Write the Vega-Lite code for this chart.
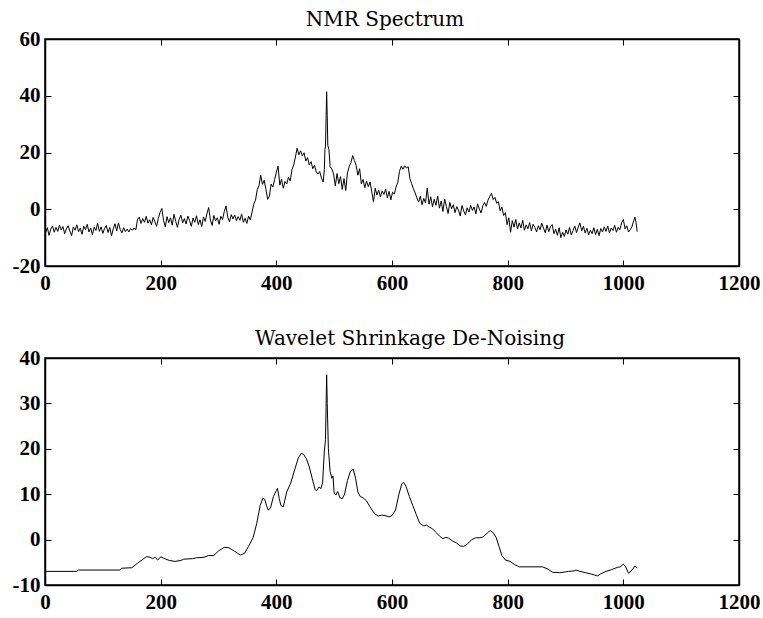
{
"$schema": "https://vega.github.io/schema/vega-lite/v6.json",
"padding": {"left": 11, "top": 9, "right": 2, "bottom": 2},
"background": "white",
"config": {
  "view": {"stroke": "black", "strokeWidth": 1.5},
  "axis": {"grid": false, "domainColor": "black", "domainWidth": 1.5, "tickColor": "black", "tickWidth": 1, "tickSize": -6, "labelFont": "Liberation Serif", "labelFontSize": 21, "labelFontWeight": "bold", "labelColor": "black", "labelFlush": false, "labelOverlap": false, "labelExpr": "'' + datum.value"},
  "axisX": {"labelPadding": 12},
  "axisY": {"labelPadding": 11},
  "title": {"font": "DejaVu Serif", "fontSize": 20, "fontWeight": "normal", "color": "black", "anchor": "middle", "offset": -2},
  "concat": {"spacing": 34}
},
"datasets": {
"raw": [
{"x":1,"y":-8.3},{"x":4,"y":-6.5},{"x":7,"y":-9.2},{"x":10,"y":-7.0},{"x":13,"y":-5.9},{"x":16,"y":-8.1},{"x":19,"y":-6.4},{"x":22,"y":-7.8},{"x":25,"y":-5.6},{"x":28,"y":-7.3},
{"x":31,"y":-6.1},{"x":34,"y":-8.6},{"x":37,"y":-6.9},{"x":40,"y":-5.8},{"x":43,"y":-7.7},{"x":46,"y":-9.3},{"x":49,"y":-6.2},{"x":52,"y":-7.4},{"x":55,"y":-5.5},{"x":58,"y":-7.9},
{"x":61,"y":-6.7},{"x":64,"y":-8.8},{"x":67,"y":-6.0},{"x":70,"y":-7.2},{"x":73,"y":-5.3},{"x":76,"y":-8.0},{"x":79,"y":-6.6},{"x":82,"y":-9.0},{"x":85,"y":-6.3},{"x":88,"y":-7.5},
{"x":91,"y":-4.9},{"x":94,"y":-7.8},{"x":97,"y":-6.2},{"x":100,"y":-8.5},{"x":103,"y":-6.8},{"x":106,"y":-5.7},{"x":109,"y":-8.2},{"x":112,"y":-6.4},{"x":115,"y":-9.4},{"x":118,"y":-6.9},
{"x":121,"y":-5.1},{"x":124,"y":-7.6},{"x":127,"y":-4.8},{"x":130,"y":-7.1},{"x":133,"y":-8.3},{"x":136,"y":-6.5},{"x":139,"y":-7.9},{"x":142,"y":-7.0},{"x":145,"y":-8.0},{"x":148,"y":-6.8},
{"x":151,"y":-7.4},{"x":154,"y":-6.6},{"x":157,"y":-7.3},{"x":160,"y":-3.6},{"x":163,"y":-2.8},{"x":166,"y":-5.0},{"x":169,"y":-3.3},{"x":172,"y":-4.6},{"x":175,"y":-2.5},{"x":178,"y":-4.9},
{"x":181,"y":-3.7},{"x":184,"y":-5.5},{"x":187,"y":-2.9},{"x":190,"y":-4.4},{"x":193,"y":-6.0},{"x":196,"y":-3.2},{"x":199,"y":-1.1},{"x":202,"y":0.3},{"x":205,"y":-3.9},{"x":208,"y":-6.2},
{"x":211,"y":-2.6},{"x":214,"y":-4.7},{"x":217,"y":-3.0},{"x":220,"y":-5.6},{"x":223,"y":-1.8},{"x":226,"y":-4.2},{"x":229,"y":-6.4},{"x":232,"y":-3.5},{"x":235,"y":-2.1},{"x":238,"y":-4.8},
{"x":241,"y":-3.3},{"x":244,"y":-5.2},{"x":247,"y":-2.4},{"x":250,"y":-4.0},{"x":253,"y":-6.0},{"x":256,"y":-3.1},{"x":259,"y":-4.6},{"x":262,"y":-2.3},{"x":265,"y":-5.4},{"x":268,"y":-3.7},
{"x":271,"y":-6.1},{"x":274,"y":-2.7},{"x":277,"y":-4.3},{"x":280,"y":-1.6},{"x":283,"y":0.6},{"x":286,"y":-3.8},{"x":289,"y":-5.7},{"x":292,"y":-2.2},{"x":295,"y":-4.1},{"x":298,"y":-3.0},
{"x":301,"y":-5.3},{"x":304,"y":-2.5},{"x":307,"y":-3.6},{"x":310,"y":-0.8},{"x":313,"y":1.2},{"x":316,"y":-2.8},{"x":319,"y":-4.4},{"x":322,"y":-1.9},{"x":325,"y":-3.4},{"x":328,"y":-2.0},
{"x":331,"y":-4.0},{"x":334,"y":-2.6},{"x":337,"y":-3.9},{"x":340,"y":-1.7},{"x":343,"y":-4.6},{"x":346,"y":-3.2},{"x":349,"y":-5.0},{"x":352,"y":-2.4},{"x":355,"y":-3.8},{"x":358,"y":-1.0},
{"x":361,"y":1.8},{"x":364,"y":3.2},{"x":367,"y":6.9},{"x":370,"y":8.3},{"x":373,"y":12.0},{"x":376,"y":8.8},{"x":379,"y":10.2},{"x":382,"y":7.0},{"x":385,"y":3.5},{"x":388,"y":4.6},
{"x":391,"y":8.9},{"x":394,"y":7.8},{"x":397,"y":10.4},{"x":400,"y":13.0},{"x":403,"y":15.2},{"x":406,"y":8.5},{"x":409,"y":10.6},{"x":412,"y":7.4},{"x":415,"y":9.8},{"x":418,"y":8.9},
{"x":421,"y":11.3},{"x":424,"y":10.0},{"x":427,"y":13.9},{"x":430,"y":15.6},{"x":433,"y":18.4},{"x":436,"y":21.5},{"x":439,"y":19.2},{"x":442,"y":20.6},{"x":445,"y":18.8},{"x":448,"y":19.9},
{"x":451,"y":17.0},{"x":454,"y":18.2},{"x":457,"y":15.6},{"x":460,"y":16.8},{"x":463,"y":14.3},{"x":466,"y":15.5},{"x":469,"y":13.2},{"x":472,"y":12.4},{"x":475,"y":13.3},{"x":478,"y":11.0},
{"x":481,"y":9.6},{"x":483,"y":14.0},{"x":484,"y":21.0},{"x":485,"y":22.0},{"x":486,"y":32.0},{"x":487,"y":41.4},{"x":488,"y":33.0},{"x":489,"y":22.5},{"x":491,"y":21.0},{"x":493,"y":15.0},
{"x":496,"y":14.2},{"x":499,"y":12.5},{"x":502,"y":8.2},{"x":505,"y":12.6},{"x":508,"y":9.0},{"x":511,"y":11.5},{"x":514,"y":7.0},{"x":517,"y":10.8},{"x":520,"y":6.6},{"x":523,"y":12.8},
{"x":526,"y":15.0},{"x":529,"y":16.5},{"x":532,"y":18.9},{"x":535,"y":17.2},{"x":538,"y":15.4},{"x":541,"y":12.0},{"x":544,"y":14.3},{"x":547,"y":8.9},{"x":550,"y":10.5},{"x":553,"y":7.6},
{"x":556,"y":9.9},{"x":559,"y":8.0},{"x":562,"y":9.6},{"x":565,"y":6.2},{"x":568,"y":2.6},{"x":571,"y":7.4},{"x":574,"y":5.0},{"x":577,"y":6.8},{"x":580,"y":4.3},{"x":583,"y":6.5},
{"x":586,"y":5.2},{"x":589,"y":7.1},{"x":592,"y":4.0},{"x":595,"y":6.3},{"x":598,"y":3.3},{"x":601,"y":6.0},{"x":604,"y":5.4},{"x":607,"y":7.8},{"x":610,"y":9.5},{"x":613,"y":13.4},
{"x":616,"y":15.2},{"x":619,"y":14.1},{"x":622,"y":15.3},{"x":625,"y":14.5},{"x":628,"y":15.0},{"x":631,"y":10.8},{"x":634,"y":9.0},{"x":637,"y":7.2},{"x":640,"y":5.8},{"x":643,"y":4.0},
{"x":646,"y":2.5},{"x":649,"y":4.6},{"x":652,"y":1.6},{"x":655,"y":3.8},{"x":658,"y":2.2},{"x":661,"y":7.5},{"x":664,"y":1.8},{"x":667,"y":4.4},{"x":670,"y":0.9},{"x":673,"y":3.5},
{"x":676,"y":1.4},{"x":679,"y":4.7},{"x":682,"y":0.4},{"x":685,"y":2.9},{"x":688,"y":-0.8},{"x":691,"y":3.6},{"x":694,"y":1.0},{"x":697,"y":-1.5},{"x":700,"y":2.4},{"x":703,"y":0.2},
{"x":706,"y":1.6},{"x":709,"y":-1.2},{"x":712,"y":0.9},{"x":715,"y":-0.3},{"x":718,"y":-2.4},{"x":721,"y":1.3},{"x":724,"y":-0.6},{"x":727,"y":-2.0},{"x":730,"y":0.5},{"x":733,"y":-1.0},
{"x":736,"y":1.4},{"x":739,"y":-0.4},{"x":742,"y":0.8},{"x":745,"y":-1.6},{"x":748,"y":1.9},{"x":751,"y":0.1},{"x":754,"y":-1.3},{"x":757,"y":1.2},{"x":760,"y":2.4},{"x":763,"y":1.0},
{"x":766,"y":3.2},{"x":769,"y":4.5},{"x":772,"y":5.6},{"x":775,"y":3.4},{"x":778,"y":4.2},{"x":781,"y":2.1},{"x":784,"y":2.6},{"x":787,"y":-0.5},{"x":790,"y":0.8},{"x":793,"y":-2.2},
{"x":796,"y":-1.2},{"x":799,"y":-5.4},{"x":802,"y":-3.0},{"x":805,"y":-8.1},{"x":808,"y":-4.0},{"x":811,"y":-6.3},{"x":814,"y":-3.6},{"x":817,"y":-7.0},{"x":820,"y":-4.8},{"x":823,"y":-6.6},
{"x":826,"y":-3.9},{"x":829,"y":-7.4},{"x":832,"y":-5.5},{"x":835,"y":-6.9},{"x":838,"y":-4.7},{"x":841,"y":-7.6},{"x":844,"y":-5.3},{"x":847,"y":-6.4},{"x":850,"y":-8.0},{"x":853,"y":-5.8},
{"x":856,"y":-7.2},{"x":859,"y":-4.9},{"x":862,"y":-6.7},{"x":865,"y":-8.3},{"x":868,"y":-5.6},{"x":871,"y":-7.9},{"x":874,"y":-6.2},{"x":877,"y":-5.4},{"x":880,"y":-8.6},{"x":883,"y":-7.0},
{"x":886,"y":-9.2},{"x":889,"y":-6.5},{"x":892,"y":-10.0},{"x":895,"y":-8.1},{"x":898,"y":-9.6},{"x":901,"y":-7.3},{"x":904,"y":-8.8},{"x":907,"y":-6.4},{"x":910,"y":-9.1},{"x":913,"y":-7.5},
{"x":916,"y":-5.9},{"x":919,"y":-8.2},{"x":922,"y":-6.3},{"x":925,"y":-4.8},{"x":928,"y":-7.7},{"x":931,"y":-6.0},{"x":934,"y":-8.4},{"x":937,"y":-6.7},{"x":940,"y":-9.0},{"x":943,"y":-7.4},
{"x":946,"y":-8.6},{"x":949,"y":-6.5},{"x":952,"y":-8.9},{"x":955,"y":-7.1},{"x":958,"y":-9.3},{"x":961,"y":-6.8},{"x":964,"y":-8.0},{"x":967,"y":-6.2},{"x":970,"y":-7.8},{"x":973,"y":-5.9},
{"x":976,"y":-8.3},{"x":979,"y":-6.6},{"x":982,"y":-7.5},{"x":985,"y":-5.7},{"x":988,"y":-8.1},{"x":991,"y":-6.4},{"x":994,"y":-7.2},{"x":997,"y":-4.8},{"x":1000,"y":-3.6},{"x":1003,"y":-6.9},
{"x":1006,"y":-5.8},{"x":1009,"y":-8.0},{"x":1012,"y":-7.2},{"x":1015,"y":-6.1},{"x":1018,"y":-4.0},{"x":1020,"y":-2.8},{"x":1022,"y":-4.6},{"x":1024,"y":-7.9}
],
"den": [
{"x":1,"y":-7.0},{"x":55,"y":-7.0},{"x":58,"y":-6.7},{"x":130,"y":-6.7},{"x":133,"y":-6.3},{"x":150,"y":-6.2},{"x":160,"y":-5.2},{"x":175,"y":-3.8},{"x":180,"y":-3.8},{"x":186,"y":-4.2},
{"x":190,"y":-3.9},{"x":195,"y":-4.5},{"x":200,"y":-3.8},{"x":205,"y":-4.1},{"x":215,"y":-4.6},{"x":225,"y":-4.8},{"x":235,"y":-4.6},{"x":240,"y":-4.3},{"x":255,"y":-4.2},{"x":262,"y":-4.0},
{"x":275,"y":-3.9},{"x":283,"y":-3.5},{"x":292,"y":-3.5},{"x":300,"y":-2.5},{"x":310,"y":-1.7},{"x":318,"y":-1.8},{"x":328,"y":-2.6},{"x":338,"y":-3.4},{"x":345,"y":-3.0},{"x":352,"y":-1.5},
{"x":360,"y":0.5},{"x":366,"y":3.5},{"x":372,"y":7.5},{"x":377,"y":9.2},{"x":380,"y":8.8},{"x":383,"y":7.5},{"x":386,"y":6.5},{"x":390,"y":7.0},{"x":395,"y":9.5},{"x":400,"y":10.8},
{"x":402,"y":11.3},{"x":405,"y":9.0},{"x":408,"y":7.5},{"x":412,"y":7.2},{"x":418,"y":10.5},{"x":425,"y":12.5},{"x":432,"y":15.5},{"x":438,"y":18.0},{"x":443,"y":19.0},{"x":447,"y":18.8},
{"x":452,"y":17.8},{"x":457,"y":16.0},{"x":462,"y":13.5},{"x":467,"y":11.0},{"x":470,"y":10.8},{"x":474,"y":11.6},{"x":477,"y":11.2},{"x":480,"y":12.5},{"x":483,"y":19.5},{"x":485,"y":22.0},
{"x":487,"y":36.3},{"x":488,"y":30.0},{"x":490,"y":20.0},{"x":493,"y":15.0},{"x":496,"y":13.5},{"x":498,"y":14.0},{"x":500,"y":10.2},{"x":503,"y":9.8},{"x":506,"y":10.6},{"x":510,"y":9.2},
{"x":514,"y":9.0},{"x":518,"y":10.0},{"x":523,"y":13.0},{"x":528,"y":15.0},{"x":533,"y":15.5},{"x":537,"y":13.5},{"x":541,"y":10.5},{"x":545,"y":9.5},{"x":550,"y":9.2},{"x":556,"y":8.5},
{"x":562,"y":7.2},{"x":570,"y":5.7},{"x":576,"y":5.2},{"x":582,"y":5.4},{"x":588,"y":5.3},{"x":595,"y":5.0},{"x":600,"y":5.3},{"x":606,"y":6.5},{"x":612,"y":10.0},{"x":617,"y":12.3},
{"x":620,"y":12.6},{"x":624,"y":11.8},{"x":630,"y":9.5},{"x":636,"y":7.5},{"x":642,"y":5.5},{"x":648,"y":3.6},{"x":655,"y":3.0},{"x":660,"y":3.2},{"x":664,"y":2.8},{"x":670,"y":2.4},
{"x":676,"y":1.6},{"x":682,"y":0.8},{"x":688,"y":0.2},{"x":693,"y":0.5},{"x":698,"y":0.3},{"x":705,"y":-0.3},{"x":712,"y":-0.8},{"x":718,"y":-1.4},{"x":724,"y":-1.5},{"x":730,"y":-1.0},
{"x":738,"y":0.0},{"x":745,"y":0.4},{"x":752,"y":0.4},{"x":758,"y":0.6},{"x":765,"y":1.5},{"x":770,"y":2.0},{"x":775,"y":1.5},{"x":780,"y":0.5},{"x":785,"y":-1.5},{"x":790,"y":-3.5},
{"x":796,"y":-4.5},{"x":804,"y":-4.8},{"x":812,"y":-5.5},{"x":820,"y":-6.0},{"x":860,"y":-6.0},{"x":868,"y":-6.4},{"x":878,"y":-7.2},{"x":890,"y":-7.3},{"x":900,"y":-7.1},{"x":905,"y":-7.0},
{"x":915,"y":-6.9},{"x":918,"y":-6.7},{"x":925,"y":-7.0},{"x":935,"y":-7.3},{"x":945,"y":-7.6},{"x":955,"y":-8.0},{"x":960,"y":-7.6},{"x":970,"y":-7.0},{"x":980,"y":-6.6},{"x":990,"y":-6.1},
{"x":995,"y":-6.0},{"x":1000,"y":-5.4},{"x":1004,"y":-6.0},{"x":1009,"y":-7.4},{"x":1015,"y":-6.7},{"x":1020,"y":-5.8},{"x":1024,"y":-6.3}
]
},
"vconcat": [
  {
    "title": {"text": "NMR Spectrum", "dx": -7},
    "width": 694, "height": 227,
    "data": {"name": "raw"},
    "layer": [
      {"mark": {"type": "line", "color": "black", "strokeWidth": 1, "clip": true},
       "encoding": {
         "x": {"field": "x", "type": "quantitative", "scale": {"domain": [0, 1200], "nice": false, "zero": false}, "axis": {"values": [0, 200, 400, 600, 800, 1000, 1200], "title": null}},
         "y": {"field": "y", "type": "quantitative", "scale": {"domain": [-20, 60], "nice": false, "zero": false}, "axis": {"values": [-20, 0, 20, 40, 60], "title": null}}
       }},
      {"mark": {"type": "line", "opacity": 0},
       "encoding": {
         "x": {"field": "x", "type": "quantitative", "axis": {"orient": "top", "values": [0, 200, 400, 600, 800, 1000, 1200], "labels": false, "title": null}},
         "y": {"field": "y", "type": "quantitative", "axis": {"orient": "right", "values": [-20, 0, 20, 40, 60], "labels": false, "title": null}}
       }}
    ],
    "resolve": {"axis": {"x": "independent", "y": "independent"}}
  },
  {
    "title": {"text": "Wavelet Shrinkage De-Noising", "dx": 18},
    "width": 694, "height": 227,
    "data": {"name": "den"},
    "layer": [
      {"mark": {"type": "line", "color": "black", "strokeWidth": 1, "clip": true},
       "encoding": {
         "x": {"field": "x", "type": "quantitative", "scale": {"domain": [0, 1200], "nice": false, "zero": false}, "axis": {"values": [0, 200, 400, 600, 800, 1000, 1200], "title": null}},
         "y": {"field": "y", "type": "quantitative", "scale": {"domain": [-10, 40], "nice": false, "zero": false}, "axis": {"values": [-10, 0, 10, 20, 30, 40], "title": null}}
       }},
      {"mark": {"type": "line", "opacity": 0},
       "encoding": {
         "x": {"field": "x", "type": "quantitative", "axis": {"orient": "top", "values": [0, 200, 400, 600, 800, 1000, 1200], "labels": false, "title": null}},
         "y": {"field": "y", "type": "quantitative", "axis": {"orient": "right", "values": [-10, 0, 10, 20, 30, 40], "labels": false, "title": null}}
       }}
    ],
    "resolve": {"axis": {"x": "independent", "y": "independent"}}
  }
]
}
